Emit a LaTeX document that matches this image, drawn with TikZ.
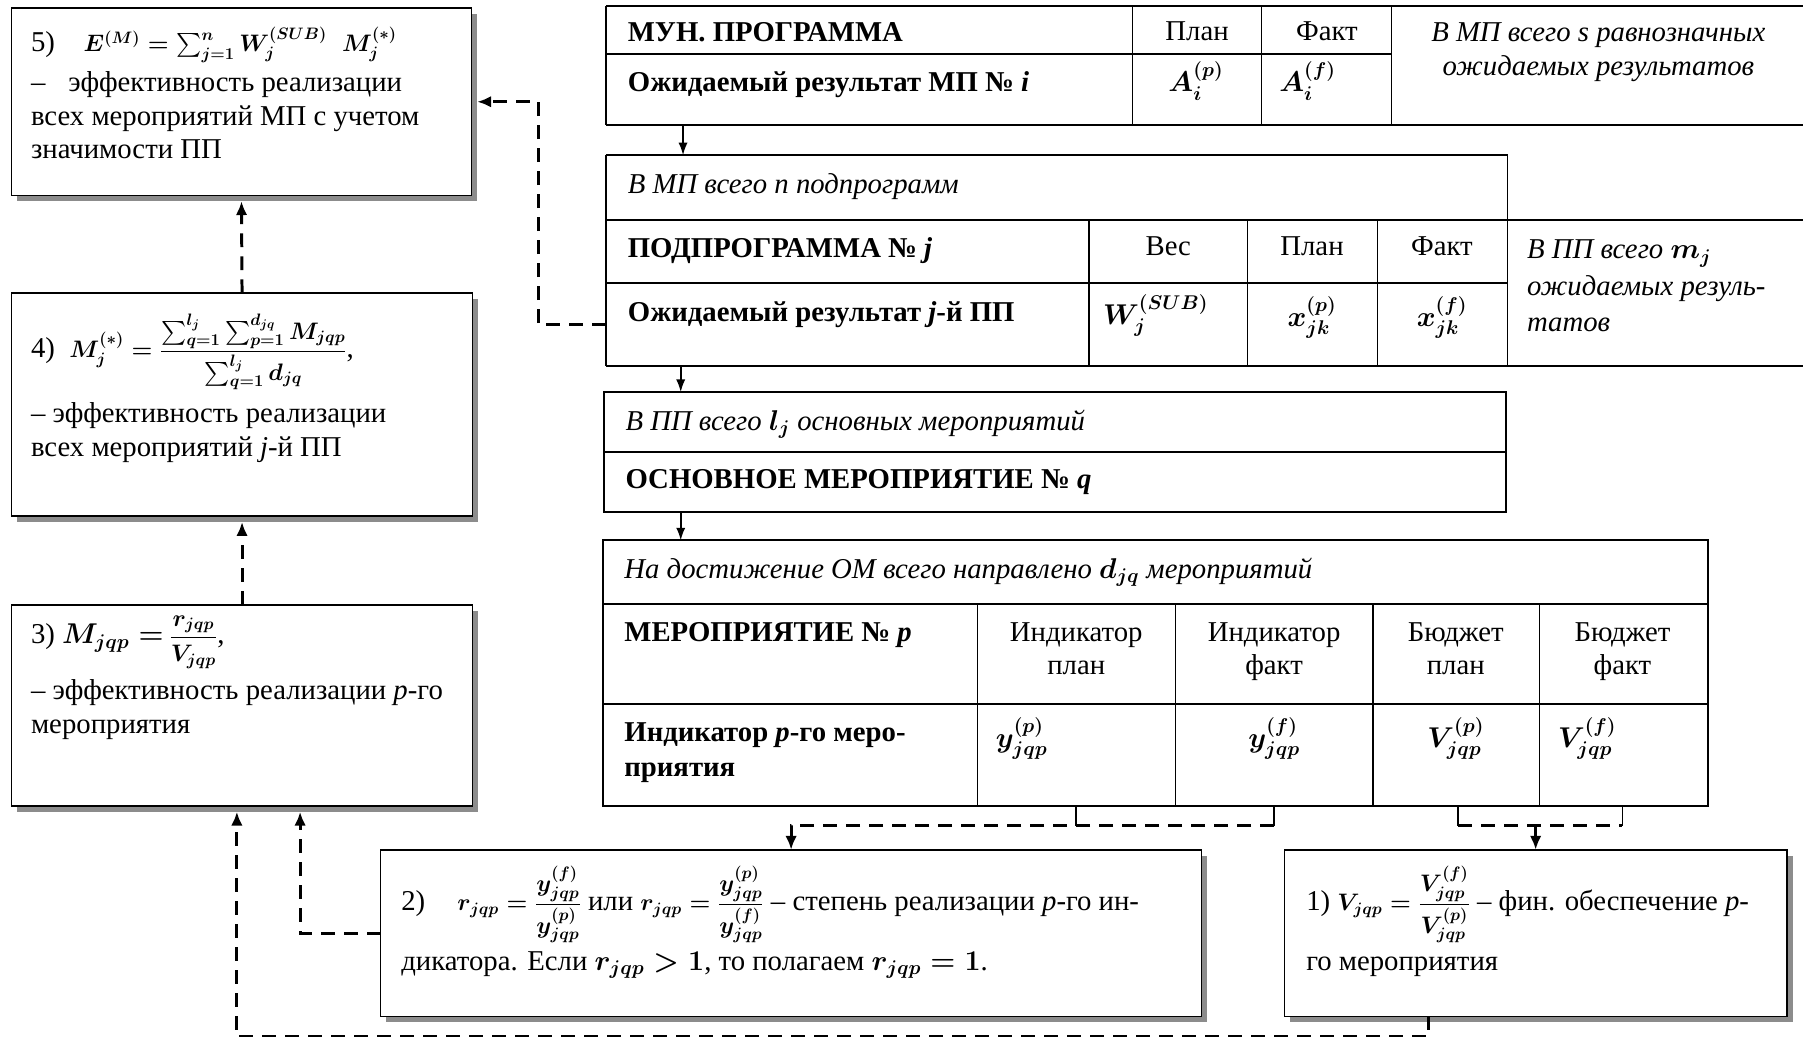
\documentclass[tikz,border=0pt]{standalone}
\usepackage{amsmath}
\usepackage{exscale}
\usepackage{fontspec}
\setmainfont{Liberation Serif}
\usetikzlibrary{arrows.meta,shadows,calc}
% formulas inside the text boxes are set slightly smaller than the words
\newcommand{\fm}[1]{{\fontsize{22}{26}\selectfont #1}}
\newcommand{\fmsmall}[1]{{\fontsize{20}{24}\selectfont #1}}
\begin{document}
\begin{tikzpicture}[x=1pt,y=-1pt,
  every node/.style={inner sep=0pt, outer sep=0pt},
  txt/.style={anchor=base west, font=\fontsize{25}{29}\selectfont\boldmath},
  ctxt/.style={anchor=base, font=\fontsize{25}{29}\selectfont\boldmath},
  btxt/.style={anchor=base west, font=\fontsize{25}{29}\selectfont\bfseries\boldmath},
  itxt/.style={anchor=base west, font=\fontsize{25}{29}\selectfont\itshape\boldmath},
  ictxt/.style={anchor=base, font=\fontsize{25}{29}\selectfont\itshape\boldmath},
  box/.style={draw, line width=1.4pt, fill=white, anchor=north west,
     drop shadow={shadow xshift=5pt, shadow yshift=-5pt, opacity=1, fill=black!45}},
  tbl/.style={anchor=north west, draw=none},
  hrule/.style={line width=1.8pt},
  vrule/.style={line width=1pt},
  flow/.style={line width=1.5pt, -{Latex[length=11pt,width=8pt]}},
  dashline/.style={line width=2.6pt, dash pattern=on 12pt off 8pt},
  tip/.style={-{Latex[length=12pt,width=10pt]}},
  tick/.style={line width=1.6pt},
]
\useasboundingbox (0,0) rectangle (1568,901);

% ---------- formula boxes ----------
\node[box, minimum width=400pt, minimum height=163pt] (b5) at (10,7) {};
\node[box, minimum width=401pt, minimum height=194pt] (b4) at (10,255) {};
\node[box, minimum width=401pt, minimum height=175pt] (b3) at (10,526) {};
\node[box, minimum width=714pt, minimum height=145pt] (b2) at (331,739) {};
\node[box, minimum width=437pt, minimum height=145pt] (b1) at (1117,739) {};

\node[txt] (b5l1) at (27,45) {5)\hspace{25pt}\fm{$E^{(M)}=\sum_{j=1}^{n}W_j^{(SUB)}\;\; M_j^{(*)}$}};
\node[txt] (b5l2) at (27,80) {–\hspace{20pt}эффективность реализации};
\node[txt] (b5l3) at (27,109) {всех мероприятий МП с учетом};
\node[txt] (b5l4) at (27,138) {значимости ПП};

\node[txt] (b4l1) at (27,311) {4)\ \ \fm{$M_j^{(*)}=\dfrac{\sum_{q=1}^{l_j}\sum_{p=1}^{d_{jq}}M_{jqp}}{\sum_{q=1}^{l_j}d_{jq}}$},};
\node[txt] (b4l2) at (27,367) {– эффективность реализации};
\node[txt] (b4l3) at (27,397) {всех мероприятий \textit{j}-й ПП};

\node[txt] (b3l1) at (27,560) {3) $M_{jqp}=$\hspace{5pt}\fmsmall{$\dfrac{r_{jqp}}{V_{jqp}}$},};
\node[txt] (b3l2) at (27,608) {– эффективность реализации \textit{p}-го};
\node[txt] (b3l3) at (27,638) {мероприятия};

\node[txt] (b2l1) at (349,792) {2)\hspace{28pt}\fm{$r_{jqp}=\dfrac{y^{(f)}_{jqp}}{y^{(p)}_{jqp}}$} или \fm{$r_{jqp}=\dfrac{y^{(p)}_{jqp}}{y^{(f)}_{jqp}}$} – степень реализации \textit{p}-го ин-};
\node[txt] (b2l2) at (349,844) {дикатора. Если $r_{jqp}>1$, то полагаем $r_{jqp}=1$.};

\node[txt] (b1l1) at (1136,792) {1) \fm{$V_{jqp}=\dfrac{V^{(f)}_{jqp}}{V^{(p)}_{jqp}}$} – фин. обеспечение \textit{p}-};
\node[txt] (b1l2) at (1136,844) {го мероприятия};

% ---------- table 1: municipal programme ----------
\node[tbl, minimum width=1041pt, minimum height=104pt] (t1) at (527,5) {};
\draw[hrule] (527,5) -- (1568,5);
\draw[hrule] (527,47) -- (1210,47);
\draw[hrule] (527,109) -- (1568,109);
\draw[vrule] (527,5) -- (527,109);
\draw[vrule] (985,5) -- (985,109);
\draw[vrule] (1097,5) -- (1097,109);
\draw[vrule] (1210,5) -- (1210,109);
\node[btxt] (t1a) at (546,36) {МУН. ПРОГРАММА};
\node[ctxt] (t1b) at (1041,35) {План};
\node[ctxt] (t1c) at (1154,35) {Факт};
\node[ictxt] (t1d) at (1390,36) {В МП всего s равнозначных};
\node[ictxt] (t1e) at (1390,66) {ожидаемых результатов};
\node[btxt] (t1f) at (546,80) {Ожидаемый результат МП №~\textit{i}};
\node[ctxt] (t1g) at (1040,80) {$A_i^{(p)}$};
\node[ctxt] (t1h) at (1137,80) {$A_i^{(f)}$};

% ---------- table 2: subprogramme ----------
\node[tbl, minimum width=1041pt, minimum height=183pt] (t2) at (527,135) {};
\draw[hrule] (527,135) -- (1311,135);
\draw[hrule] (527,191) -- (1568,191);
\draw[hrule] (527,246) -- (1311,246);
\draw[hrule] (527,318) -- (1568,318);
\draw[vrule] (527,135) -- (527,318);
\draw[vrule] (1311,135) -- (1311,318);
\draw[vrule] (947,191) -- (947,318);
\draw[vrule] (1085,191) -- (1085,318);
\draw[vrule] (1198,191) -- (1198,318);
\node[itxt] (t2a) at (546,168) {В МП всего n подпрограмм};
\node[btxt] (t2b) at (546,224) {ПОДПРОГРАММА №~\textit{j}};
\node[ctxt] (t2c) at (1016,222) {Вес};
\node[ctxt] (t2d) at (1141,222) {План};
\node[ctxt] (t2e) at (1254,222) {Факт};
\node[itxt] (t2f) at (1328,225) {В ПП всего $m_j$};
\node[itxt] (t2g) at (1328,257) {ожидаемых резуль-};
\node[itxt] (t2h) at (1328,288) {татов};
\node[btxt] (t2i) at (546,280) {Ожидаемый результат \textit{j}-й ПП};
\node[ctxt] (t2j) at (1005,282) {$W_j^{(SUB)}$};
\node[ctxt] (t2k) at (1141,284) {$x_{jk}^{(p)}$};
\node[ctxt] (t2l) at (1254,284) {$x_{jk}^{(f)}$};

% ---------- table 3: main activity ----------
\node[tbl, minimum width=785pt, minimum height=104pt] (t3) at (525,341) {};
\draw[hrule] (525,341) rectangle (1310,445);
\draw[hrule] (525,393) -- (1310,393);
\node[itxt] (t3a) at (544,374) {В ПП всего $l_j$ основных мероприятий};
\node[btxt] (t3b) at (544,425) {ОСНОВНОЕ МЕРОПРИЯТИЕ №~\textit{q}};

% ---------- table 4: activity ----------
\node[tbl, minimum width=961pt, minimum height=231pt] (t4) at (524,470) {};
\draw[hrule] (524,470) rectangle (1485,701);
\draw[hrule] (524,525) -- (1485,525);
\draw[hrule] (524,612) -- (1485,612);
\foreach \cx in {850,1022,1194,1339} \draw[vrule] (\cx,525) -- (\cx,701);
\node[itxt] (t4a) at (543,503) {На достижение ОМ всего направлено $d_{jq}$ мероприятий};
\node[btxt] (t4b) at (543,558) {МЕРОПРИЯТИЕ №~\textit{p}};
\node[ctxt] (t4c1) at (936,558) {Индикатор};
\node[ctxt] (t4c2) at (936,587) {план};
\node[ctxt] (t4d1) at (1108,558) {Индикатор};
\node[ctxt] (t4d2) at (1108,587) {факт};
\node[ctxt] (t4e1) at (1266,558) {Бюджет};
\node[ctxt] (t4e2) at (1266,587) {план};
\node[ctxt] (t4f1) at (1411,558) {Бюджет};
\node[ctxt] (t4f2) at (1411,587) {факт};
\node[btxt] (t4g1) at (543,645) {Индикатор \textit{p}-го меро-};
\node[btxt] (t4g2) at (543,675) {приятия};
\node[txt] (t4h) at (866,650) {$y^{(p)}_{jqp}$};
\node[ctxt] (t4i) at (1108,650) {$y^{(f)}_{jqp}$};
\node[ctxt] (t4j) at (1266,650) {$V^{(p)}_{jqp}$};
\node[txt] (t4k) at (1355,650) {$V^{(f)}_{jqp}$};

% ---------- solid arrows between tables ----------
\draw[flow] ([xshift=67pt]t1.south west) -- ([xshift=67pt]t2.north west);
\draw[flow] ([xshift=65pt]t2.south west) -- ([xshift=67pt]t3.north west);
\draw[flow] ([xshift=67pt]t3.south west) -- ([xshift=68pt]t4.north west);

% ---------- dashed connectors ----------
\draw[dashline, tip] ([yshift=36pt]t2.south west) -- ++(-59,0) coordinate (k5)
   -- (k5 |- b5.east) -- ($(b5.east)+(5,0)$);
\draw[dashline, tip] (b4.north) -- ($(b5.south)+(0,5)$);
\draw[dashline, tip] (b3.north) -- ($(b4.south)+(0,5)$);
\draw[dashline, tip] (b2.west) -- ++(-70,0) coordinate (k2) -- ($(k2 |- b3.south)+(0,5)$);
\coordinate (k3) at (206,0);
\draw[dashline, tip] ([xshift=-93pt]b1.south) -- ++(0,17.5) coordinate (k1) -- (k1 -| k3)
   coordinate (k4) -- ($(k3 |- b3.south)+(0,5)$);

\coordinate (c1) at ($(t4.south west)+(412,0)$);
\coordinate (c2) at ($(t4.south west)+(584,0)$);
\coordinate (c3) at ($(t4.south west)+(744,0)$);
\coordinate (c4) at ($(t4.south west)+(887,0)$);
\draw[tick] (c1) -- ++(0,17);
\draw[tick] (c2) -- ++(0,17) coordinate (d2);
\draw[tick] (c3) -- ++(0,17) coordinate (d3);
\draw[tick] (c4) -- ++(0,17) coordinate (d4);
\draw[dashline, tip] (d2) -- (d2 -| b2.north) -- (b2.north);
\draw[dashline] (d3) -- (d4);
\draw[dashline, tip] (d3 -| b1.north) -- (b1.north);
\end{tikzpicture}
\end{document}
